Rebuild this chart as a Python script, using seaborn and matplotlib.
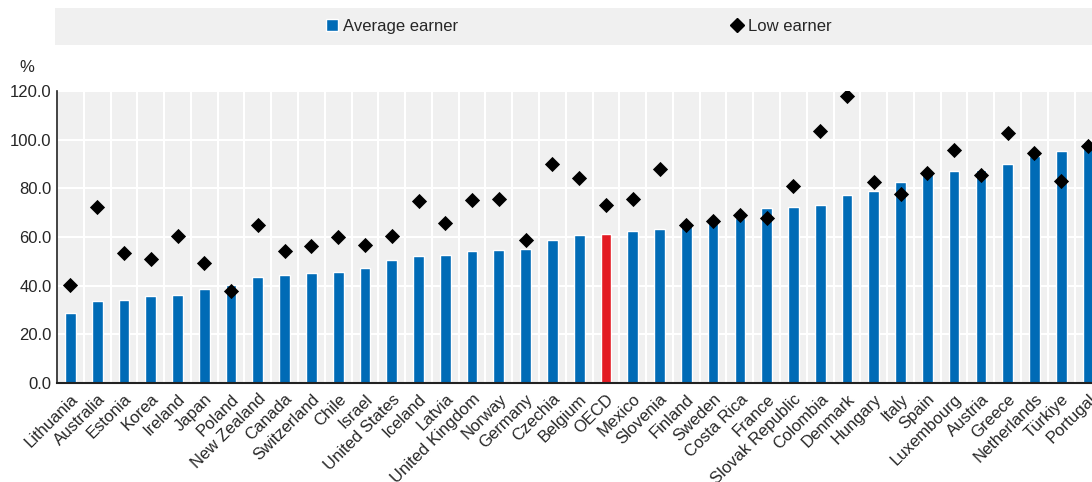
import pandas as pd
import seaborn as sns
import numpy as np
import matplotlib.pyplot as plt
from matplotlib.lines import Line2D
from matplotlib.patches import Patch

countries = ['Lithuania', 'Australia', 'Estonia', 'Korea', 'Ireland', 'Japan', 'Poland',
             'New Zealand', 'Canada', 'Switzerland', 'Chile', 'Israel', 'United States',
             'Iceland', 'Latvia', 'United Kingdom', 'Norway', 'Germany', 'Czechia', 'Belgium',
             'OECD', 'Mexico', 'Slovenia', 'Finland', 'Sweden', 'Costa Rica', 'France',
             'Slovak Republic', 'Colombia', 'Denmark', 'Hungary', 'Italy', 'Spain',
             'Luxembourg', 'Austria', 'Greece', 'Netherlands', 'Türkiye', 'Portugal']
average_earner = [28.9, 33.8, 34.3, 35.7, 36.1, 38.8, 40.2,
                  43.5, 44.3, 45.2, 45.6, 47.2, 50.5,
                  52.1, 52.8, 54.4, 54.8, 55.2, 58.8, 60.8,
                  61.3, 62.3, 63.2, 65.1, 65.6, 67.9, 71.8,
                  72.5, 73.0, 77.3, 78.8, 82.6, 86.3,
                  87.0, 87.4, 90.0, 93.4, 95.5, 98.9]
low_earner = [40.1, 72.2, 53.5, 50.8, 60.3, 49.2, 37.8,
              65.1, 54.3, 56.2, 60.0, 56.8, 60.3,
              74.8, 65.8, 75.1, 75.5, 58.9, 89.8, 84.4,
              73.2, 75.5, 87.9, 64.9, 66.6, 69.0, 67.8,
              81.0, 103.7, 117.8, 82.6, 77.8, 86.4,
              95.9, 85.6, 102.9, 94.7, 83.0, 97.3]

df = pd.DataFrame({'country': countries, 'avg': average_earner, 'low': low_earner})

blue = '#006BB6'
red = '#E31B23'
bg = '#F0F0F0'
palette = {c: (red if c == 'OECD' else blue) for c in countries}

sns.set_style('white')
plt.rcParams['font.family'] = ['Liberation Sans', 'DejaVu Sans']

fig = plt.figure(figsize=(10.92, 4.82), dpi=100)
W, H = 1092, 482
ax = fig.add_axes([57 / W, 1 - 383 / H, (W - 57) / W, (383 - 91) / H])
ax.set_facecolor(bg)

sns.barplot(data=df, x='country', y='avg', hue='country', palette=palette,
            width=0.4, legend=False, ax=ax, saturation=1, zorder=2)
sns.scatterplot(data=df, x='country', y='low', marker='D', color='black', s=60,
                edgecolor='black', linewidth=0, ax=ax, zorder=3)

n = len(countries)
ax.set_xlim(-0.5, n - 1 + 0.15)
ax.set_ylim(0, 120)
ax.set_yticks(np.arange(0, 121, 20))
ax.set_yticklabels([f'{v:.1f}' for v in np.arange(0, 121, 20)], fontsize=12)
ax.set_xticks(np.arange(n) - 0.5, minor=True)
ax.set_xticks(np.arange(n))
ax.set_xticklabels(countries, rotation=45, ha='right', rotation_mode='anchor', fontsize=12)
ax.tick_params(axis='x', which='major', length=0, pad=6)
ax.tick_params(axis='x', which='minor', length=5, width=1.2, color='#222222', direction='out')
ax.tick_params(axis='y', length=0, pad=4)
ax.grid(axis='y', color='white', linewidth=1.5, zorder=0)
ax.grid(axis='x', which='minor', color='white', linewidth=1.5, zorder=0)
ax.set_axisbelow(True)
ax.set_xlabel('')
ax.set_ylabel('')
for s in ['top', 'right']:
    ax.spines[s].set_visible(False)
ax.spines['left'].set_color('#222222')
ax.spines['bottom'].set_color('#222222')
ax.spines['bottom'].set_linewidth(1.5)
ax.spines['left'].set_linewidth(1.2)

fig.text(27 / W, 1 - 68 / H, '%', fontsize=12, ha='center', va='center')

# legend band
lax = fig.add_axes([55 / W, 1 - 45 / H, (W - 55) / W, 37 / H])
lax.set_facecolor(bg)
lax.set_xticks([])
lax.set_yticks([])
for s in lax.spines.values():
    s.set_visible(False)
handles = [Patch(facecolor=blue, label='Average earner'),
           Line2D([], [], marker='D', color='black', linestyle='', markersize=7, label='Low earner')]
lax.legend(handles=handles, loc='center', ncol=2, frameon=False, fontsize=12,
           columnspacing=16.4, handlelength=0.7, handletextpad=0.3,
           bbox_to_anchor=(0.505, 0.5))

fig.savefig('out.png', dpi=100)
